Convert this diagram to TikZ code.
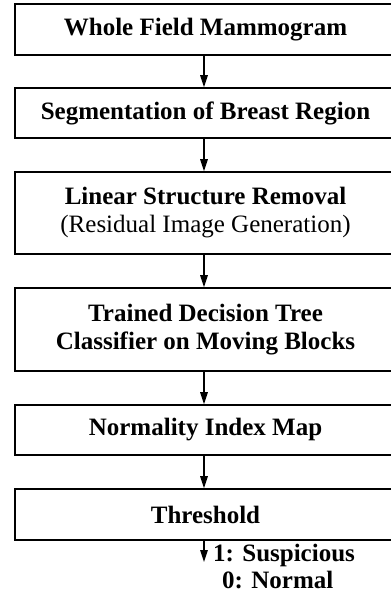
\documentclass[tikz,border=0pt]{standalone}
\usepackage{fontspec}
\setmainfont{Liberation Serif}
\usetikzlibrary{arrows.meta}
\begin{document}
\begin{tikzpicture}[x=1pt,y=1pt,
  stagebox/.style={draw, line width=1.6pt, rectangle, minimum width=381pt,
    inner sep=0pt, align=center, font=\fontsize{25}{28}\selectfont},
  flow/.style={line width=1.5pt, -{Triangle[length=12pt,width=7.5pt]}},
  outlabel/.style={anchor=west, inner sep=0pt, font=\fontsize{25}{28}\selectfont\bfseries}]
\useasboundingbox (0,0) rectangle (391,-606);
\node[stagebox, minimum height=51pt] (s1) at (205.5,-29.5) {\textbf{Whole Field Mammogram}};
\node[stagebox, minimum height=50pt] (s2) at (205.5,-113) {\textbf{Segmentation of Breast Region}};
\node[stagebox, minimum height=82pt] (s3) at (205.5,-213) {\textbf{Linear Structure Removal}\\(Residual Image Generation)};
\node[stagebox, minimum height=83pt] (s4) at (205.5,-329.5) {\textbf{Trained Decision Tree}\\\textbf{Classifier on Moving Blocks}};
\node[stagebox, minimum height=50pt] (s5) at (205.5,-430) {\textbf{Normality Index Map}};
\node[stagebox, minimum height=51pt] (s6) at (205.5,-514.5) {\textbf{Threshold}};
\coordinate (out) at (204,-562);
\node[outlabel] (l1) at (213,-555) {1: Suspicious};
\node[outlabel] (l0) at (222,-580) {0: Normal};
\draw[flow] ([xshift=-1.5pt]s1.south) -- ([xshift=-1.5pt]s2.north);
\draw[flow] ([xshift=-1.5pt]s2.south) -- ([xshift=-1.5pt]s3.north);
\draw[flow] ([xshift=-1.5pt]s3.south) -- ([xshift=-1.5pt]s4.north);
\draw[flow] ([xshift=-1.5pt]s4.south) -- ([xshift=-1.5pt]s5.north);
\draw[flow] ([xshift=-1.5pt]s5.south) -- ([xshift=-1.5pt]s6.north);
\draw[flow] ([xshift=-1.5pt]s6.south) -- (out);
\end{tikzpicture}
\end{document}
